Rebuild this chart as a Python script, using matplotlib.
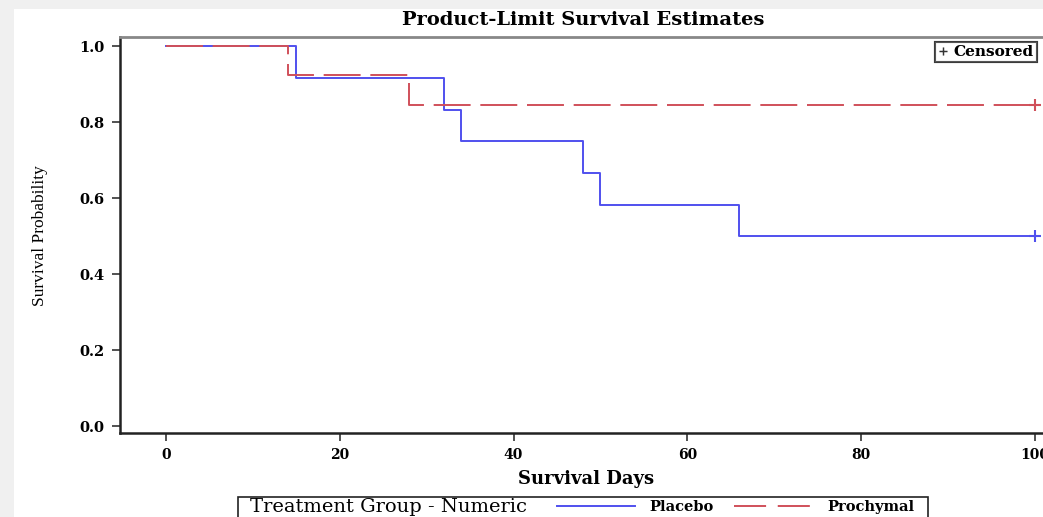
import matplotlib
matplotlib.use("Agg")
import matplotlib.pyplot as plt
from matplotlib.lines import Line2D
from matplotlib.patches import Rectangle

# Kaplan-Meier step values (days, survival probability)
placebo_days = [0, 15, 32, 34, 48, 50, 66, 100]
placebo_surv = [1.0, 0.917, 0.833, 0.75, 0.667, 0.583, 0.5, 0.5]
prochymal_days = [0, 14, 28, 100]
prochymal_surv = [1.0, 0.923, 0.846, 0.846]

# censored observations
placebo_cens_days = [100]
placebo_cens_surv = [0.5]
prochymal_cens_days = [100]
prochymal_cens_surv = [0.846]

x_ticks = [0, 20, 40, 60, 80, 100]
y_ticks = [0.0, 0.2, 0.4, 0.6, 0.8, 1.0]

blue = "#5050ee"
red = "#d0505a"
serif = "DejaVu Serif"
narrow = "Liberation Serif"

W, H = 1043, 517
fig = plt.figure(figsize=(W / 100, H / 100), dpi=100, facecolor="#f0f0f0")
fig.patches.append(Rectangle((14 / W, 0), 1, 1 - 9 / H, transform=fig.transFigure,
                             facecolor="white", edgecolor="none", zorder=-10))

ax = fig.add_axes([120 / W, 1 - 433 / H, 960 / W, 396 / H])
ax.set_facecolor("none")

ax.step(placebo_days, placebo_surv, where="post", color=blue, lw=1.4, zorder=2)
ax.step(prochymal_days, prochymal_surv, where="post", color=red, lw=1.4,
        dashes=(19, 5), zorder=3)
ax.plot(placebo_cens_days, placebo_cens_surv, "+", color=blue, ms=8, mew=1.5)
ax.plot(prochymal_cens_days, prochymal_cens_surv, "+", color=red, ms=8, mew=1.5)

ax.set_xlim(-5.3, 105.2)
ax.set_ylim(-0.018, 1.024)
ax.set_xticks(x_ticks)
ax.set_yticks(y_ticks)
ax.set_xticklabels([str(v) for v in x_ticks], fontfamily=serif, fontweight="bold", fontsize=10)
ax.set_yticklabels([f"{v:.1f}" for v in y_ticks], fontfamily=serif, fontweight="bold", fontsize=10.5)
ax.tick_params(direction="out", length=6, width=1.2, color="#333333", pad=5)

for s in ["left", "bottom"]:
    ax.spines[s].set_linewidth(1.8)
    ax.spines[s].set_color("#222222")
ax.spines["top"].set_color("#888888")
ax.spines["top"].set_linewidth(2)
ax.spines["right"].set_visible(False)

fig.text(583 / W, 1 - 20 / H, "Product-Limit Survival Estimates", ha="center", va="center",
         fontfamily=serif, fontweight="bold", fontsize=14)
fig.text(40 / W, 1 - 236 / H, "Survival Probability", rotation=90, ha="center", va="center",
         fontfamily=narrow, fontsize=12.5)
fig.text(586 / W, 1 - 479 / H, "Survival Days", ha="center", va="center",
         fontfamily=serif, fontweight="bold", fontsize=13)

# censored legend box
cens = ax.legend([Line2D([], [], color="#333333", marker="+", ls="none", ms=6)], ["Censored"],
                 loc="upper right", bbox_to_anchor=(1037 / W, 1 - 42 / H),
                 bbox_transform=fig.transFigure, frameon=True, fancybox=False,
                 edgecolor="#333333", handlelength=0.6, handletextpad=0.4,
                 borderpad=0.2, borderaxespad=0,
                 prop={"family": serif, "weight": "bold", "size": 11})
cens.get_frame().set_linewidth(1.5)
ax.add_artist(cens)

# treatment group legend at bottom
fig.patches.append(Rectangle((238 / W, -0.05), 690 / W, 0.05 + 20 / H, transform=fig.transFigure,
                             facecolor="none", edgecolor="#222222", lw=1.2))
fig.text(250 / W, 1 - 507 / H, "Treatment Group - Numeric", ha="left", va="center",
         fontfamily=serif, fontsize=14)
handles = [Line2D([], [], color=blue, lw=1.4),
           Line2D([], [], color=red, lw=1.4, dashes=(16.5, 6))]
labels = ["Placebo", "Prochymal"]
leg = fig.legend(handles, labels, ncol=2, loc="center left",
                 bbox_to_anchor=(557 / W, 1 - 507 / H), frameon=False,
                 handlelength=5.35, handletextpad=1.0, columnspacing=1.4, borderpad=0,
                 borderaxespad=0, prop={"family": serif, "weight": "bold", "size": 10.5})

fig.savefig("out.png", dpi=100, facecolor=fig.get_facecolor())
